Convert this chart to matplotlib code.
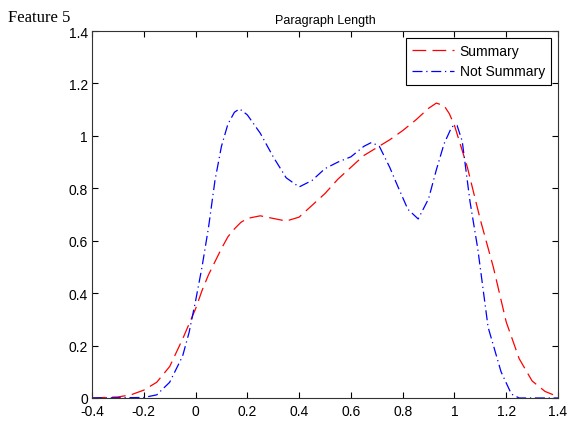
#!/usr/bin/python3
# -*- coding: utf-8 -*-
'''Feature 5: paragraph length densities, summary vs not summary.'''

import matplotlib
matplotlib.use('Agg')
import matplotlib.pyplot as plt

# Summary curve
sum_x = [-0.4, -0.3, -0.25, -0.2, -0.15, -0.1, -0.05, 0.0, 0.025, 0.05,
         0.075, 0.1, 0.125, 0.15, 0.175, 0.2, 0.25, 0.3, 0.35, 0.4, 0.45,
         0.5, 0.55, 0.6, 0.65, 0.7, 0.75, 0.8, 0.85, 0.9, 0.93, 0.96, 0.98,
         1.0, 1.05, 1.1, 1.15, 1.2, 1.25, 1.3, 1.35, 1.4]
sum_y = [0.0, 0.004, 0.012, 0.03, 0.06, 0.12, 0.225, 0.34, 0.41, 0.47,
         0.52, 0.57, 0.615, 0.645, 0.67, 0.685, 0.695, 0.685, 0.675, 0.69,
         0.735, 0.78, 0.835, 0.88, 0.925, 0.955, 0.985, 1.02, 1.06, 1.105,
         1.125, 1.115, 1.085, 1.04, 0.88, 0.68, 0.5, 0.29, 0.15, 0.065,
         0.025, 0.005]

# Not Summary curve
not_x = [-0.4, -0.2, -0.15, -0.1, -0.05, -0.025, 0.0, 0.025, 0.05, 0.075,
         0.1, 0.125, 0.15, 0.17, 0.2, 0.25, 0.3, 0.35, 0.4, 0.45, 0.5, 0.55,
         0.6, 0.65, 0.68, 0.71, 0.75, 0.78, 0.82, 0.86, 0.9, 0.93, 0.96,
         0.99, 1.01, 1.03, 1.06, 1.09, 1.13, 1.18, 1.22, 1.25, 1.4]
not_y = [0.0, 0.002, 0.012, 0.06, 0.16, 0.25, 0.37, 0.5, 0.65, 0.83,
         0.96, 1.045, 1.09, 1.103, 1.08, 1.01, 0.92, 0.84, 0.805, 0.83,
         0.875, 0.9, 0.92, 0.96, 0.975, 0.96, 0.88, 0.81, 0.72, 0.683,
         0.76, 0.87, 0.97, 1.035, 1.04, 0.98, 0.75, 0.57, 0.27, 0.1, 0.015,
         0.0, 0.0]

x_ticks = [-0.4, -0.2, 0, 0.2, 0.4, 0.6, 0.8, 1, 1.2, 1.4]
y_ticks = [0, 0.2, 0.4, 0.6, 0.8, 1, 1.2, 1.4]

plt.rcParams['font.family'] = ['Liberation Sans', 'DejaVu Sans']

fig = plt.figure(figsize=(5.7, 4.27), dpi=100)
ax = fig.add_axes([92 / 570, 1 - 399 / 427, 466 / 570, 367 / 427])

ax.plot(sum_x, sum_y, color='red', linestyle=(0, (11, 5)), linewidth=0.9,
        label='Summary')
ax.plot(not_x, not_y, color='blue', linestyle=(0, (8, 3, 1, 3)),
        linewidth=0.9, label='Not Summary')

ax.set_xlim(-0.4, 1.4)
ax.set_ylim(0, 1.4)
ax.set_xticks(x_ticks)
ax.set_yticks(y_ticks)
ax.set_xticklabels([('%g' % v) for v in x_ticks])
ax.set_yticklabels([('%g' % v) for v in y_ticks])
ax.tick_params(direction='in', top=True, right=True, length=4,
               labelsize=10, width=0.8, pad=3)
ax.tick_params(axis='x', pad=4)
for s in ax.spines.values():
    s.set_linewidth(0.8)
    s.set_color('#333333')

ax.set_title('Paragraph Length', fontsize=9, pad=6)

leg = ax.legend(loc='upper right', fontsize=10, fancybox=False,
                framealpha=1, edgecolor='black', handlelength=3,
                borderaxespad=0.5, borderpad=0.45, labelspacing=0.45,
                handletextpad=0.4)
leg.get_frame().set_linewidth(0.8)

fig.text(8 / 570, 1 - 18 / 427, 'Feature 5', fontsize=12,
         family='Liberation Serif', va='center', ha='left')

fig.savefig('out.png', dpi=100)
